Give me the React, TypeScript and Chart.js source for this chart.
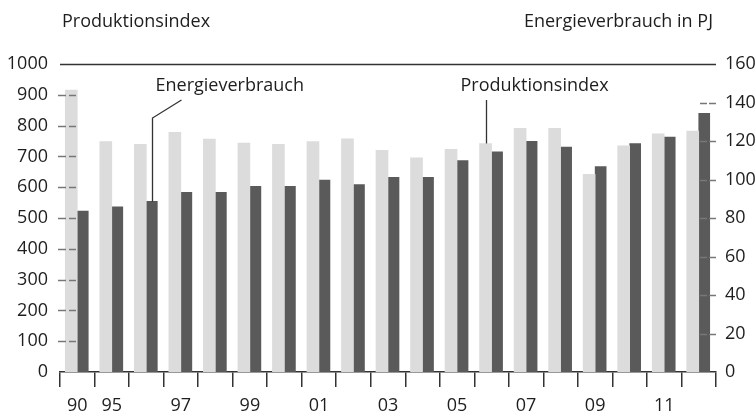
import React, { useEffect, useRef } from "react";
import { Chart, registerables } from "chart.js";

Chart.register(...registerables);

const categories = ["1990", "1995", "1996", "1997", "1998", "1999", "2000", "2001", "2002", "2003", "2004", "2005", "2006", "2007", "2008", "2009", "2010", "2011", "2012"];
const xTickLabels = ["90", "95", "", "97", "", "99", "", "01", "", "03", "", "05", "", "07", "", "09", "", "11", ""];
const produktionsindex = [915, 748, 739, 778, 756, 743, 739, 748, 757, 720, 695, 723, 742, 791, 791, 642, 734, 773, 782];
const energieverbrauchPJ = [83.6, 85.8, 88.6, 93.3, 93.3, 96.5, 96.5, 99.7, 97.3, 101.1, 101.1, 109.8, 114.4, 119.8, 116.8, 106.7, 118.7, 122.1, 134.4];
const leftTicks = [0, 100, 200, 300, 400, 500, 600, 700, 800, 900, 1000];
const rightTicks = [0, 20, 40, 60, 80, 100, 120, 140, 160];

const leftTitle = "Produktionsindex";
const rightTitle = "Energieverbrauch in PJ";
const annotEnergie = "Energieverbrauch";
const annotProd = "Produktionsindex";

const FONT = "'Open Sans', sans-serif";
const TEXT = "#1e1e1e";
const AXIS = "#333333";

const decorPlugin = {
  id: "decor",
  afterDatasetsDraw(chart: any) {
    const { ctx, chartArea } = chart;
    const yL = chart.scales.y;
    const yR = chart.scales.y1;
    ctx.save();
    // top line
    ctx.strokeStyle = AXIS;
    ctx.lineWidth = 1.5;
    ctx.setLineDash([]);
    const yTop = Math.round(yL.getPixelForValue(1000)) + 0.5;
    ctx.beginPath();
    ctx.moveTo(chartArea.left, yTop);
    ctx.lineTo(chartArea.right, yTop);
    ctx.stroke();
    // tick dashes
    ctx.strokeStyle = "#777777";
    ctx.lineWidth = 1.3;
    ctx.setLineDash([8, 3]);
    leftTicks.forEach((v) => {
      if (v === 0 || v === 1000) return;
      const y = Math.round(yL.getPixelForValue(v)) + 0.5;
      ctx.beginPath();
      ctx.moveTo(chartArea.left - 2, y);
      ctx.lineTo(chartArea.left + 16, y);
      ctx.stroke();
    });
    ctx.setLineDash([7, 2]);
    rightTicks.forEach((v) => {
      if (v === 0 || v === 160) return;
      const y = Math.round(yR.getPixelForValue(v)) + 0.5;
      ctx.beginPath();
      ctx.moveTo(chartArea.right - 16, y);
      ctx.lineTo(chartArea.right, y);
      ctx.stroke();
    });
    ctx.setLineDash([]);

    // titles
    ctx.fillStyle = TEXT;
    ctx.font = `18px ${FONT}`;
    ctx.textBaseline = "middle";
    ctx.textAlign = "left";
    ctx.fillText(leftTitle, chartArea.left + 2, chartArea.top - 42);
    ctx.textAlign = "right";
    ctx.fillText(rightTitle, chartArea.right - 3, chartArea.top - 42);

    // annotations
    const eBar = chart.getDatasetMeta(1).data[2];
    const pBar = chart.getDatasetMeta(0).data[12];
    ctx.strokeStyle = AXIS;
    ctx.lineWidth = 1.3;
    const ex = Math.round(eBar.x) + 0.5;
    ctx.beginPath();
    ctx.moveTo(ex + 29, chartArea.top + 36);
    ctx.lineTo(ex, chartArea.top + 54);
    ctx.lineTo(ex, eBar.y);
    ctx.stroke();
    ctx.textAlign = "left";
    ctx.fillText(annotEnergie, ex + 3, chartArea.top + 22);

    const px = Math.round(pBar.x) + 0.5;
    ctx.beginPath();
    ctx.moveTo(px, chartArea.top + 36);
    ctx.lineTo(px, pBar.y);
    ctx.stroke();
    ctx.fillText(annotProd, px - 26, chartArea.top + 22);
    ctx.restore();
  },
};

export default function App() {
  const ref = useRef<HTMLCanvasElement | null>(null);
  useEffect(() => {
    if (!ref.current) return;
    const chart = new Chart(ref.current, {
      type: "bar",
      data: {
        labels: categories,
        datasets: [
          {
            label: "Produktionsindex",
            data: produktionsindex,
            yAxisID: "y",
            backgroundColor: "#dcdcdc",
            barThickness: 12,
          },
          {
            label: "Energieverbrauch",
            data: energieverbrauchPJ,
            yAxisID: "y1",
            backgroundColor: "#5a5a5a",
            barThickness: 11,
          },
        ],
      },
      options: {
        responsive: false,
        animation: false,
        layout: { padding: { top: 64, left: 0, right: 0, bottom: 0 } },
        plugins: { legend: { display: false }, tooltip: { enabled: false } },
        font: { family: FONT, size: 18 },
        scales: {
          x: {
            offset: true,
            grid: {
              display: true,
              drawOnChartArea: false,
              drawTicks: true,
              tickLength: 15,
              offset: true,
              color: AXIS,
              lineWidth: 1.5,
            },
            border: { display: true, color: AXIS, width: 1.5 },
            ticks: {
              autoSkip: false,
              maxRotation: 0,
              padding: 8,
              color: TEXT,
              font: { family: FONT, size: 18 },
              callback: (_v: any, i: number) => xTickLabels[i],
            },
            afterFit: (s: any) => {
              s.height = 39;
            },
          },
          y: {
            position: "left",
            min: 0,
            max: 1000,
            afterBuildTicks: (s: any) => {
              s.ticks = leftTicks.map((v) => ({ value: v }));
            },
            grid: { display: false, drawTicks: false },
            border: { display: false },
            ticks: {
              padding: 12,
              color: TEXT,
              font: { family: FONT, size: 18 },
              callback: (v: any) => String(v),
            },
            afterFit: (s: any) => {
              s.width = 60;
            },
          },
          y1: {
            position: "right",
            min: 0,
            max: 160,
            afterBuildTicks: (s: any) => {
              s.ticks = rightTicks.map((v) => ({ value: v }));
            },
            grid: { display: false, drawTicks: false },
            border: { display: false },
            ticks: {
              padding: 9,
              color: TEXT,
              font: { family: FONT, size: 18 },
              callback: (v: any) => String(v),
            },
            afterFit: (s: any) => {
              s.width = 40;
            },
          },
        },
      } as any,
      plugins: [decorPlugin],
    });
    return () => chart.destroy();
  }, []);
  return (
    <div style={{ position: "fixed", left: 0, top: 0, width: 756, height: 411, background: "#fff" }}>
      <canvas ref={ref} width={756} height={411} />
    </div>
  );
}
